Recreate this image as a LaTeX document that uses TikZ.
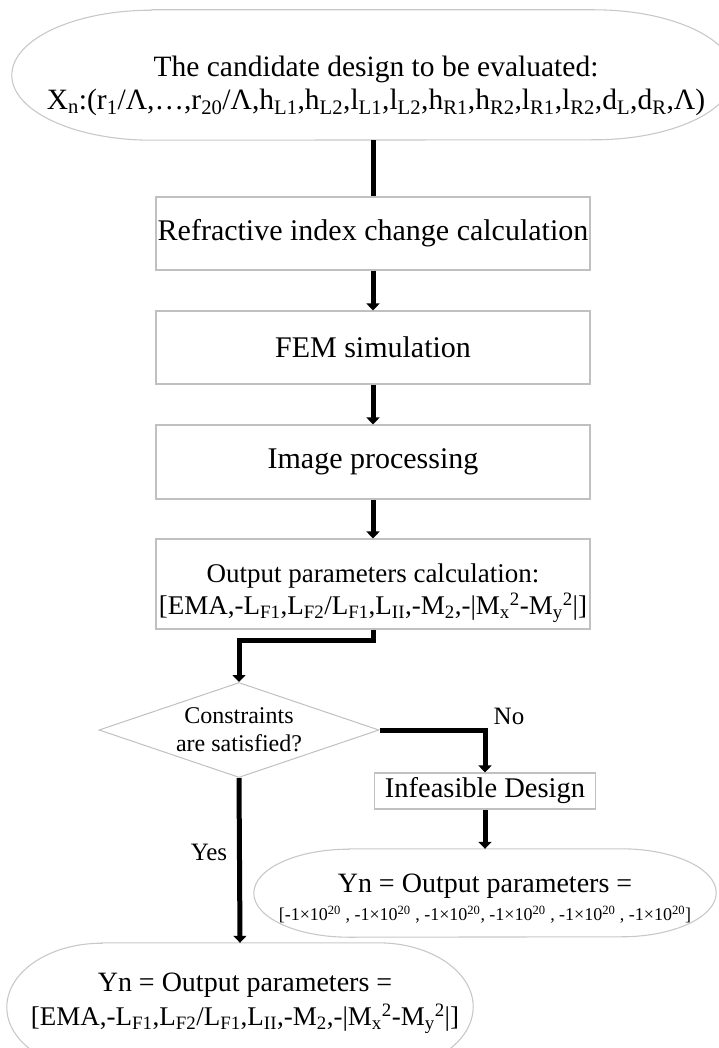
\documentclass[tikz,border=0pt]{standalone}
\usepackage{fontspec}
\setmainfont{Liberation Serif}
\usetikzlibrary{arrows.meta,shapes.geometric,calc}
\definecolor{boxgray}{RGB}{192,192,192}
\definecolor{ellgray}{RGB}{200,200,200}
\begin{document}
\begin{tikzpicture}[x=1pt,y=-1pt,
  box/.style={draw=boxgray,line width=1.1pt,rectangle,inner sep=0pt,align=center,
    font=\fontsize{30}{33}\selectfont},
  shapebox/.style={draw=none,rectangle,inner sep=0pt},
  txt/.style={inner sep=0pt,align=center,font=\fontsize{28}{33}\selectfont},
  conn/.style={line width=5pt,black},
  arr/.style={-{Triangle[width=13pt,length=7pt]}},
  lbl/.style={inner sep=0pt,font=\fontsize{25}{27}\selectfont},
  ellborder/.style={draw=ellgray,line width=1.1pt}]
\useasboundingbox (0,0) rectangle (719,1048);

% top terminator
\node[shapebox,minimum width=722pt,minimum height=130pt] (top) at (373,75) {};
\draw[ellborder] ([xshift=140pt]top.north west) -- ([xshift=-140pt]top.north east)
  arc[start angle=90,end angle=-90,x radius=140pt,y radius=65pt]
  -- ([xshift=140pt]top.south west)
  arc[start angle=-90,end angle=-270,x radius=140pt,y radius=65pt] -- cycle;
\node[txt,font=\fontsize{29.5}{33}\selectfont] (toptext) at (376,86)
  {The candidate design to be evaluated:\\
   X\textsubscript{n}:(r\textsubscript{1}/Λ,…,r\textsubscript{20}/Λ,h\textsubscript{L1},h\textsubscript{L2},l\textsubscript{L1},l\textsubscript{L2},h\textsubscript{R1},h\textsubscript{R2},l\textsubscript{R1},l\textsubscript{R2},d\textsubscript{L},d\textsubscript{R},Λ)};

% process boxes
\node[box,minimum width=434pt,minimum height=73pt] (b1) at (373,233.5) {Refractive index change calculation};
\node[box,minimum width=434pt,minimum height=73pt] (b2) at (373,347.5) {FEM simulation};
\node[box,minimum width=434pt,minimum height=74pt] (b3) at (373,462) {Image processing};
\node[box,minimum width=434pt,minimum height=90pt] (b4) at (373,584) {};
\node[txt,font=\fontsize{27}{32}\selectfont] (b4text) at (373,593)
  {Output parameters calculation:\\
   {[}EMA,-L\textsubscript{F1},L\textsubscript{F2}/L\textsubscript{F1},L\textsubscript{II},-M\textsubscript{2},-|M\textsubscript{x}\textsuperscript{2}-M\textsubscript{y}\textsuperscript{2}|]};

% decision
\node[diamond,draw=boxgray,line width=1pt,inner sep=0pt,shape aspect=2.95,
  minimum width=280pt,minimum height=95pt,align=center,
  font=\fontsize{24}{28}\selectfont] (d) at (239,730) {Constraints\\are satisfied?};

\node[box,minimum width=221pt,minimum height=36pt,font=\fontsize{28.5}{33}\selectfont] (inf) at (485,791) {Infeasible Design};

% right terminator
\node[shapebox,minimum width=462pt,minimum height=88pt] (yr) at (485,893) {};
\draw[ellborder] ([xshift=95pt]yr.north west) -- ([xshift=-95pt]yr.north east)
  arc[start angle=90,end angle=-90,x radius=95pt,y radius=44pt]
  -- ([xshift=95pt]yr.south west)
  arc[start angle=-90,end angle=-270,x radius=95pt,y radius=44pt] -- cycle;
\node[txt] (yrtext) at (485,899)
  {Yn = Output parameters =\\[-5pt]
   \fontsize{18}{20}\selectfont{[}-1×10\textsuperscript{20} , -1×10\textsuperscript{20} , -1×10\textsuperscript{20}, -1×10\textsuperscript{20} , -1×10\textsuperscript{20} , -1×10\textsuperscript{20}]};

% bottom terminator
\node[shapebox,minimum width=466pt,minimum height=128pt] (yb) at (240,1007) {};
\draw[ellborder] ([xshift=95pt]yb.north west) -- ([xshift=-95pt]yb.north east)
  arc[start angle=90,end angle=-90,x radius=95pt,y radius=64pt]
  -- ([xshift=95pt]yb.south west)
  arc[start angle=-90,end angle=-270,x radius=95pt,y radius=64pt] -- cycle;
\node[txt] (ybtext) at (245,1003)
  {Yn = Output parameters =\\[1pt]
   \fontsize{27}{32}\selectfont{[}EMA,-L\textsubscript{F1},L\textsubscript{F2}/L\textsubscript{F1},L\textsubscript{II},-M\textsubscript{2},-|M\textsubscript{x}\textsuperscript{2}-M\textsubscript{y}\textsuperscript{2}|]};

% labels
\node[lbl] (yes) at (209,852) {Yes};
\node[lbl] (no) at (509,716) {No};

% connectors
\draw[conn] (top.south) -- (b1.north);
\draw[conn,arr] (b1.south) -- (b2.north);
\draw[conn,arr] (b2.south) -- (b3.north);
\draw[conn,arr] (b3.south) -- (b4.north);
\draw[conn,arr] (b4.south) -- ++(0,11) -| (d.north);
\draw[conn,arr] (d.east) -| (inf.north);
\draw[conn,arr] (inf.south) -- (yr.north);
\draw[conn,arr] (d.south) -- (yb.north);
\end{tikzpicture}
\end{document}
